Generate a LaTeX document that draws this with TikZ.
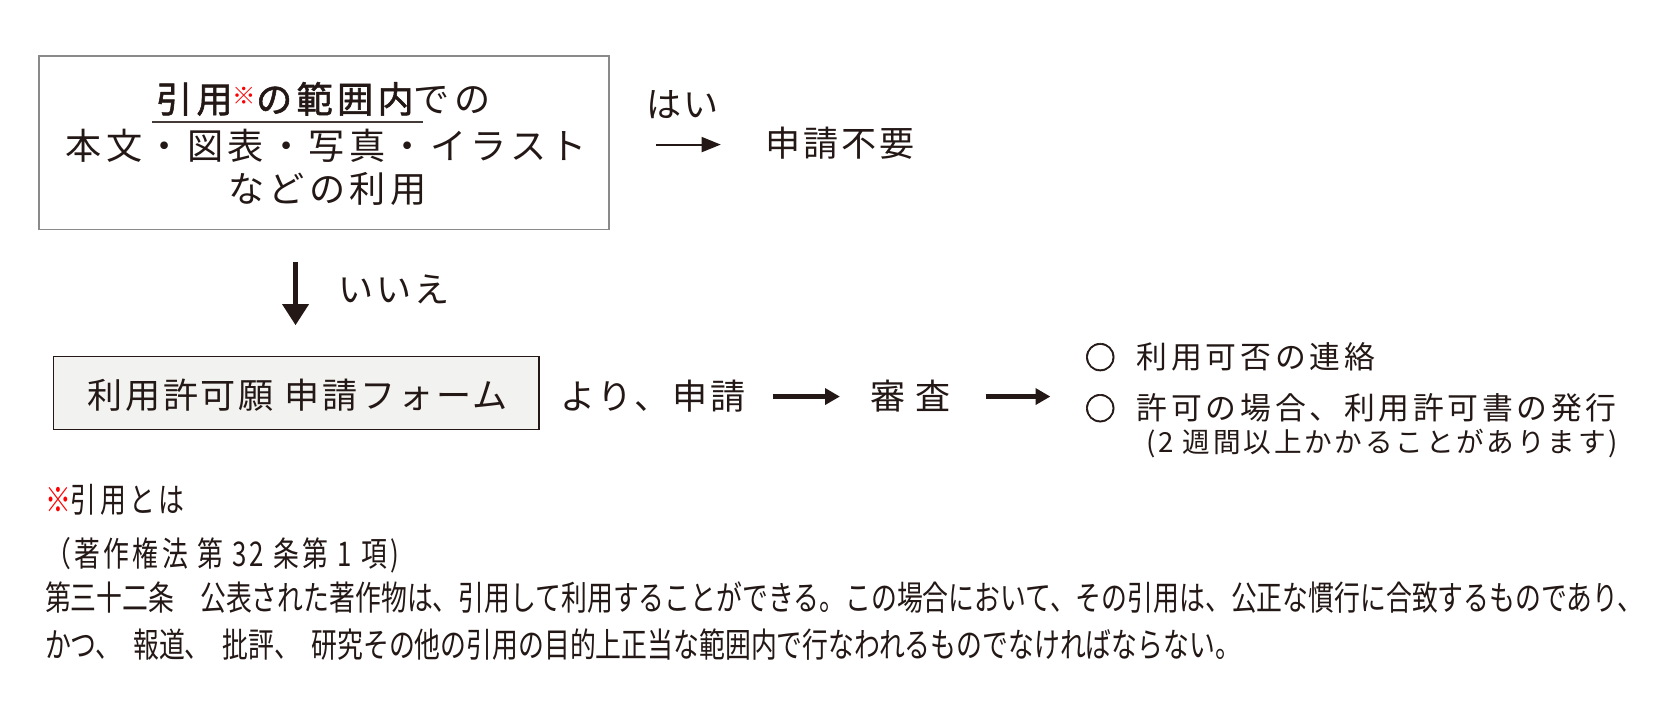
\documentclass[tikz,border=0pt]{standalone}
\usepackage{fontspec}
\usetikzlibrary{arrows.meta}
\newfontfamily\jpw[LetterSpace=12]{Noto Sans CJK JP}
\newfontfamily\jpwb[LetterSpace=12,FakeBold=1.6]{Noto Sans CJK JP}
\newfontfamily\jpm[LetterSpace=8]{Noto Sans CJK JP}
\newfontfamily\jpl[LetterSpace=12]{Noto Sans CJK JP}
\newfontfamily\jpcirc[FakeBold=2]{Noto Sans CJK JP}
\newfontfamily\jps[LetterSpace=10]{Noto Sans CJK JP}
\newfontfamily\jpc[FakeStretch=0.76]{Noto Sans CJK JP}
\newfontfamily\jpcs[FakeStretch=0.76,LetterSpace=10]{Noto Sans CJK JP}
\definecolor{ink}{HTML}{231815}
\definecolor{boxgray}{HTML}{F2F2F0}
\definecolor{framegray}{HTML}{8A8A8A}
\tikzset{
  txt/.style={inner sep=0pt, text=ink},
  bigtxt/.style={txt, font=\jpw\fontsize{17}{20}\selectfont},
  midtxt/.style={txt, font=\jpm\fontsize{16.5}{20}\selectfont},
  listtxt/.style={txt, font=\jpl\fontsize{14.5}{18}\selectfont},
  smalltxt/.style={txt, font=\jps\fontsize{13}{15}\selectfont},
  lawtxt/.style={txt, font=\jpc\fontsize{16}{18}\selectfont},
  lawhead/.style={txt, font=\jpcs\fontsize{16}{18}\selectfont},
  thinarrow/.style={draw=ink, line width=1pt, -{Triangle[length=9pt,width=7pt]}},
  thickarrow/.style={draw=ink, line width=2pt, -{Triangle[length=7pt,width=7.5pt]}},
  downarrow/.style={draw=ink, line width=2.6pt, -{Triangle[length=10pt,width=12pt]}},
}
\begin{document}
\begin{tikzpicture}[x=0.5pt,y=-0.5pt]
\useasboundingbox (0,0) rectangle (1568,667);
% top box
\node[draw=framegray, line width=0.8pt, minimum width=268pt, minimum height=81.5pt, inner sep=0pt] (box1) at (305,134.5) {};
\node[bigtxt] (l1) at (304,93) {{\jpwb 引用}\textcolor{red}{\fontsize{11}{12}\selectfont\raisebox{4pt}{※}}{\jpwb の範囲内}での};
\node[bigtxt] (l2) at (307,137) {本文・図表・写真・イラスト};
\node[bigtxt] (l3) at (308,178) {などの利用};
\coordinate (ul1) at (143,115);
\coordinate (ul2) at (398,115);
\draw[draw=ink!85, line width=0.8pt] (ul1) -- (ul2);
% yes branch
\node[midtxt] (yes) at (642,98) {はい};
\coordinate (ya) at (617,136);
\coordinate (yb) at (678,136);
\draw[thinarrow] (ya) -- (yb);
\node[midtxt, anchor=west] (noneed) at (720,135) {申請不要};
% no branch
\coordinate (na) at (278,246);
\coordinate (nb) at (278,306);
\draw[downarrow] (na) -- (nb);
\node[midtxt, anchor=west] (no) at (318,272) {いいえ};
% form box
\node[draw=ink, fill=boxgray, line width=0.6pt, minimum width=228.5pt, minimum height=34.5pt, inner sep=0pt] (box2) at (278.5,369.5) {};
\node[midtxt] (form) at (280,372) {利用許可願 申請フォーム};
\node[midtxt, anchor=west] (apply) at (527,373) {より、申請};
\node[midtxt, anchor=west] (review) at (818,373) {審 査};
\coordinate (a1s) at (727,373);
\coordinate (a1e) at (790,373);
\coordinate (a2s) at (927,373);
\coordinate (a2e) at (988,373);
\draw[thickarrow] (a1s) -- (a1e);
\draw[thickarrow] (a2s) -- (a2e);
% results
\node[listtxt, anchor=west] (r1) at (1020,336) {{\jpcirc ○}\hspace{5pt} 利用可否の連絡};
\node[listtxt, anchor=west] (r2) at (1020,384) {{\jpcirc ○}\hspace{5pt} 許可の場合、利用許可書の発行};
\node[smalltxt, anchor=west] (r3) at (1078,417) {(2 週間以上かかることがあります)};
% law
\node[lawhead, anchor=west] (q0) at (42,470) {\textcolor{red}{※}引用とは};
\node[lawhead, anchor=west] (q1) at (42,522) {（著作権法 第 32 条第 1 項)};
\node[lawtxt, anchor=west] (q2) at (42,562) {第三十二条　公表された著作物は、引用して利用することができる。この場合において、その引用は、公正な慣行に合致するものであり、};
\node[lawtxt, anchor=west] (q3) at (42,606) {かつ、\ \ 報道、\ \ 批評、\ \ 研究その他の引用の目的上正当な範囲内で行なわれるものでなければならない。};
\end{tikzpicture}
\end{document}
